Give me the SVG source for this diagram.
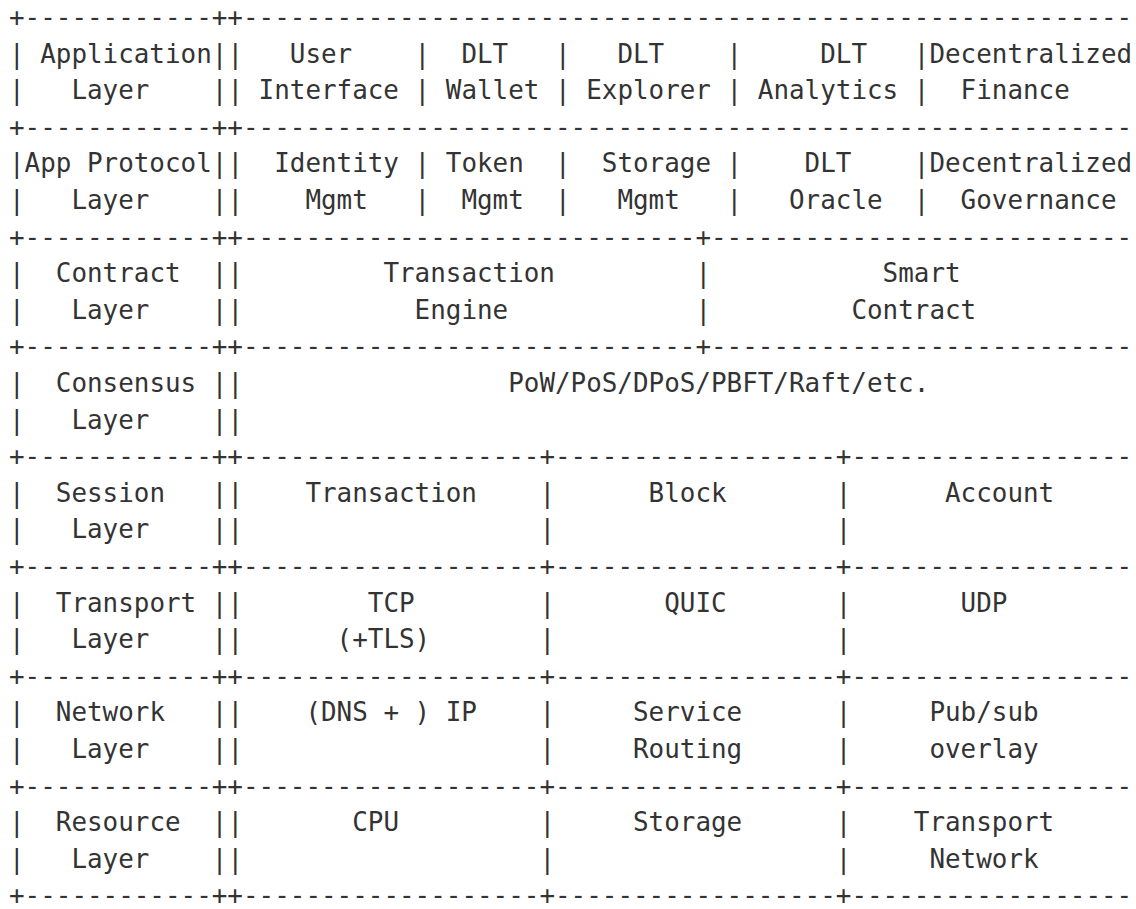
<svg xmlns="http://www.w3.org/2000/svg" xmlns:xlink="http://www.w3.org/1999/xlink" width="1136" height="909" viewBox="0 0 1136 909" xml:space="preserve">
<style>
text { font-family: "DejaVu Sans Mono", "Liberation Mono", monospace; font-size: 25.92px; fill: #333333; white-space: pre; }
</style>
<defs>
<g id="sepA">
<text x="9" y="0">+------------++</text>
<text x="243" y="0" textLength="889.2" lengthAdjust="spacing">---------------------------------------------------------</text>
</g>
<g id="sepB">
<text x="9" y="0">+------------++</text>
<text x="243" y="0" textLength="452.4" lengthAdjust="spacing">-----------------------------</text>
<text x="695.4" y="0">+</text>
<text x="711" y="0" textLength="421.2" lengthAdjust="spacing">---------------------------</text>
</g>
<g id="sepC">
<text x="9" y="0">+------------++</text>
<text x="243" y="0" textLength="296.4" lengthAdjust="spacing">-------------------</text>
<text x="539.4" y="0">+</text>
<text x="555" y="0" textLength="280.8" lengthAdjust="spacing">------------------</text>
<text x="835.8" y="0">+</text>
<text x="851.4" y="0" textLength="280.8" lengthAdjust="spacing">------------------</text>
</g>
<g id="pipesA">
<text x="9" y="0">|</text>
<text x="211.8" y="0">||</text>
<text x="414.6" y="0">|</text>
<text x="555" y="0">|</text>
<text x="726.6" y="0">|</text>
<text x="913.8" y="0">|</text>
</g>
<g id="pipesB">
<text x="9" y="0">|</text>
<text x="211.8" y="0">||</text>
<text x="695.4" y="0">|</text>
</g>
<g id="pipesL">
<text x="9" y="0">|</text>
<text x="211.8" y="0">||</text>
</g>
<g id="pipesC">
<text x="9" y="0">|</text>
<text x="211.8" y="0">||</text>
<text x="539.4" y="0">|</text>
<text x="835.8" y="0">|</text>
</g>
</defs>

<g id="connectors">
<use xlink:href="#sepA" href="#sepA" y="26"/>
<use xlink:href="#pipesA" href="#pipesA" y="62.6"/>
<use xlink:href="#pipesA" href="#pipesA" y="99.2"/>
<use xlink:href="#sepA" href="#sepA" y="135.8"/>
<use xlink:href="#pipesA" href="#pipesA" y="172.4"/>
<use xlink:href="#pipesA" href="#pipesA" y="209"/>
<use xlink:href="#sepB" href="#sepB" y="245.6"/>
<use xlink:href="#pipesB" href="#pipesB" y="282.2"/>
<use xlink:href="#pipesB" href="#pipesB" y="318.8"/>
<use xlink:href="#sepB" href="#sepB" y="355.4"/>
<use xlink:href="#pipesL" href="#pipesL" y="392"/>
<use xlink:href="#pipesL" href="#pipesL" y="428.6"/>
<use xlink:href="#sepC" href="#sepC" y="465.2"/>
<use xlink:href="#pipesC" href="#pipesC" y="501.8"/>
<use xlink:href="#pipesC" href="#pipesC" y="538.4"/>
<use xlink:href="#sepC" href="#sepC" y="575"/>
<use xlink:href="#pipesC" href="#pipesC" y="611.6"/>
<use xlink:href="#pipesC" href="#pipesC" y="648.2"/>
<use xlink:href="#sepC" href="#sepC" y="684.8"/>
<use xlink:href="#pipesC" href="#pipesC" y="721.4"/>
<use xlink:href="#pipesC" href="#pipesC" y="758"/>
<use xlink:href="#sepC" href="#sepC" y="794.6"/>
<use xlink:href="#pipesC" href="#pipesC" y="831.2"/>
<use xlink:href="#pipesC" href="#pipesC" y="867.8"/>
<use xlink:href="#sepC" href="#sepC" y="904.4"/>
</g>

<g id="application-layer">
<text x="40.2" y="62.6">Application</text>
<text x="71.4" y="99.2">Layer</text>
<text x="289.8" y="62.6">User</text>
<text x="258.6" y="99.2">Interface</text>
<text x="461.4" y="62.6">DLT</text>
<text x="445.8" y="99.2">Wallet</text>
<text x="617.4" y="62.6">DLT</text>
<text x="586.2" y="99.2">Explorer</text>
<text x="820.2" y="62.6">DLT</text>
<text x="757.8" y="99.2">Analytics</text>
<text x="929.4" y="62.6">Decentralized</text>
<text x="960.6" y="99.2">Finance</text>
</g>

<g id="app-protocol-layer">
<text x="24.6" y="172.4">App Protocol</text>
<text x="71.4" y="209">Layer</text>
<text x="274.2" y="172.4">Identity</text>
<text x="305.4" y="209">Mgmt</text>
<text x="445.8" y="172.4">Token</text>
<text x="461.4" y="209">Mgmt</text>
<text x="601.8" y="172.4">Storage</text>
<text x="617.4" y="209">Mgmt</text>
<text x="804.6" y="172.4">DLT</text>
<text x="789" y="209">Oracle</text>
<text x="929.4" y="172.4">Decentralized</text>
<text x="960.6" y="209">Governance</text>
</g>

<g id="contract-layer">
<text x="55.8" y="282.2">Contract</text>
<text x="71.4" y="318.8">Layer</text>
<text x="383.4" y="282.2">Transaction</text>
<text x="414.6" y="318.8">Engine</text>
<text x="882.6" y="282.2">Smart</text>
<text x="851.4" y="318.8">Contract</text>
</g>

<g id="consensus-layer">
<text x="55.8" y="392">Consensus</text>
<text x="71.4" y="428.6">Layer</text>
<text x="508.2" y="392">PoW/PoS/DPoS/PBFT/Raft/etc.</text>
</g>

<g id="session-layer">
<text x="55.8" y="501.8">Session</text>
<text x="71.4" y="538.4">Layer</text>
<text x="305.4" y="501.8">Transaction</text>
<text x="648.6" y="501.8">Block</text>
<text x="945" y="501.8">Account</text>
</g>

<g id="transport-layer">
<text x="55.8" y="611.6">Transport</text>
<text x="71.4" y="648.2">Layer</text>
<text x="367.8" y="611.6">TCP</text>
<text x="336.6" y="648.2">(+TLS)</text>
<text x="664.2" y="611.6">QUIC</text>
<text x="960.6" y="611.6">UDP</text>
</g>

<g id="network-layer">
<text x="55.8" y="721.4">Network</text>
<text x="71.4" y="758">Layer</text>
<text x="305.4" y="721.4">(DNS + ) IP</text>
<text x="633" y="721.4">Service</text>
<text x="633" y="758">Routing</text>
<text x="929.4" y="721.4">Pub/sub</text>
<text x="929.4" y="758">overlay</text>
</g>

<g id="resource-layer">
<text x="55.8" y="831.2">Resource</text>
<text x="71.4" y="867.8">Layer</text>
<text x="352.2" y="831.2">CPU</text>
<text x="633" y="831.2">Storage</text>
<text x="913.8" y="831.2">Transport</text>
<text x="929.4" y="867.8">Network</text>
</g>
</svg>
